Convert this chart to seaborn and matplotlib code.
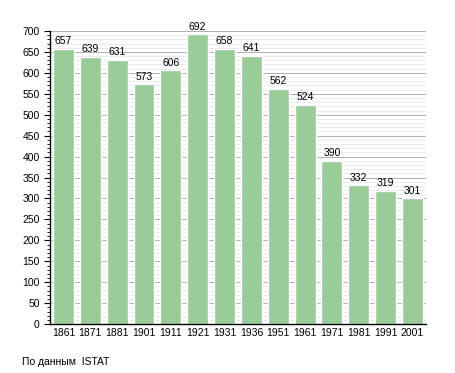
import matplotlib
matplotlib.use("Agg")
import matplotlib.pyplot as plt
import seaborn as sns
import pandas as pd
from matplotlib.ticker import MultipleLocator

# Data
years = ["1861", "1871", "1881", "1901", "1911", "1921", "1931",
         "1936", "1951", "1961", "1971", "1981", "1991", "2001"]
population = [657, 639, 631, 573, 606, 692, 658, 641, 562, 524, 390, 332, 319, 301]

df = pd.DataFrame({"year": years, "pop": population})

sns.set_style("white")
plt.rcParams["font.family"] = ["Liberation Sans", "DejaVu Sans"]
plt.rcParams["text.color"] = "black"
plt.rcParams["xtick.color"] = "black"
plt.rcParams["ytick.color"] = "black"

fig = plt.figure(figsize=(4.55, 3.73), dpi=100)
ax = fig.add_axes([0.11, 0.131, 0.826, 0.786])

# grid: minor every 10, major every 50
ax.yaxis.set_major_locator(MultipleLocator(50))
ax.yaxis.set_minor_locator(MultipleLocator(10))
ax.grid(axis="y", which="major", color="#b0b0b0", linewidth=0.7)
ax.grid(axis="y", which="minor", color="#e2e2e2", linewidth=0.5)
ax.set_axisbelow(True)

sns.barplot(data=df, x="year", y="pop", color="#99cc99", saturation=1,
            width=0.78, ax=ax)

for i, v in enumerate(population):
    ax.text(i, v + 6, str(v), ha="center", va="bottom", fontsize=7.5)

ax.set_ylim(0, 700)
ax.set_xlim(-0.5, len(years) - 0.5)
ax.set_xlabel("")
ax.set_ylabel("")
ax.tick_params(axis="both", labelsize=7.5)
ax.tick_params(axis="y", which="major", length=4, width=0.8, left=True)
ax.tick_params(axis="y", which="minor", length=2, width=0.6, left=True)
ax.tick_params(axis="x", length=0, pad=3)

for s in ["top", "right"]:
    ax.spines[s].set_visible(False)
for s in ["left", "bottom"]:
    ax.spines[s].set_color("black")
    ax.spines[s].set_linewidth(1.0)

fig.text(22 / 455, 1 - 362 / 373, "По данным  ISTAT", fontsize=7.5, va="center")

fig.savefig("out.png", dpi=100)
